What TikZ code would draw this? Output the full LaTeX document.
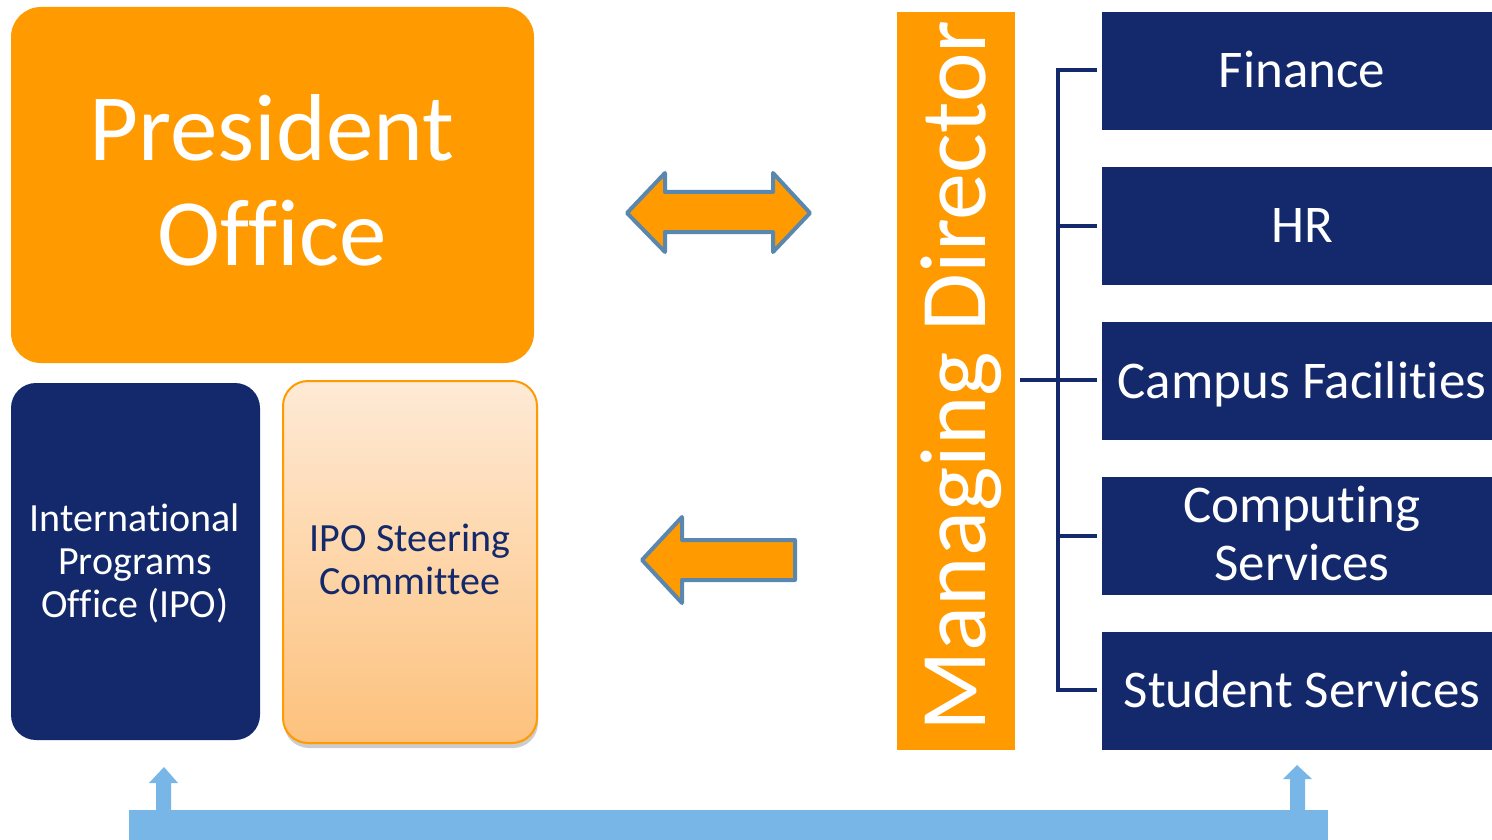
\documentclass[tikz,border=0pt]{standalone}
\usepackage{fontspec}
\setmainfont{Carlito}[Ligatures={NoCommon,NoRare,NoContextual}]
\usetikzlibrary{shadows}
\definecolor{orng}{HTML}{FF9A00}
\definecolor{navy}{HTML}{13296B}
\definecolor{lblue}{HTML}{77B6E6}
\definecolor{aedge}{HTML}{5A87AD}
\definecolor{stop}{HTML}{FEEAD6}
\definecolor{sbot}{HTML}{FDC17C}
\begin{document}
\begin{tikzpicture}[x=1pt,y=-1pt,
  boxo/.style={fill=orng, draw=none, inner sep=0pt, outer sep=0pt},
  boxn/.style={fill=navy, draw=none, inner sep=0pt, outer sep=0pt},
  wtext/.style={text=white, inner sep=0pt, align=center, anchor=base},
  bigtext/.style={wtext, font=\fontsize{95}{105}\selectfont},
  midtext/.style={wtext, font=\fontsize{53}{58}\selectfont},
  smalltext/.style={wtext, font=\fontsize{40}{43}\selectfont},
  bigarrow/.style={fill=orng, draw=aedge, line width=4pt, line join=round},
  bracketline/.style={draw=navy, line width=4pt},
  basebar/.style={fill=lblue, draw=none}]
\useasboundingbox (0,0) rectangle (1492,840);

% President Office
\node[boxo, rounded corners=30pt, minimum width=523pt, minimum height=356pt] (pres) at (272.5,185) {};
\node[bigtext] (prestext) at (272,265) {President\\Office};

% IPO
\node[boxn, rounded corners=25pt, minimum width=249pt, minimum height=357pt] (ipo) at (135.5,561.5) {};
\node[smalltext] (ipotext) at (135,617) {International\\Programs\\Office (IPO)};

% Steering committee
\node[rounded corners=25pt, minimum width=254pt, minimum height=362pt, inner sep=0pt, outer sep=0pt,
      draw=orng, line width=2pt, top color=stop, bottom color=sbot,
      drop shadow={shadow xshift=1pt, shadow yshift=-5pt, opacity=0.2, fill=black}] (steer) at (410,562) {};
\node[smalltext, text=navy] (steertext) at (410,594) {IPO Steering\\Committee};

% Managing Director
\node[boxo, minimum width=118pt, minimum height=738pt] (md) at (956,381) {};
\node[wtext, font=\fontsize{94}{105}\selectfont, rotate=90] (mdtext) at (985,376) {Managing Director};

% Right boxes
\node[boxn, minimum width=390pt, minimum height=118pt] (fin) at (1297,71) {};
\node[boxn, minimum width=390pt, minimum height=118pt] (hr) at (1297,226) {};
\node[boxn, minimum width=390pt, minimum height=118pt] (camp) at (1297,381) {};
\node[boxn, minimum width=390pt, minimum height=118pt] (comp) at (1297,536) {};
\node[boxn, minimum width=390pt, minimum height=118pt] (stud) at (1297,691) {};
\node[midtext] (fintext) at (1302,88) {Finance};
\node[midtext] (hrtext) at (1302,242) {HR};
\node[midtext] (camptext) at (1302,398) {Campus Facilities};
\node[midtext] (comptext) at (1302,580) {Computing\\Services};
\node[midtext] (studtext) at (1302,707) {Student Services};

% Bracket
\coordinate (bustop) at (1058,70);
\coordinate (busbot) at (1058,690);
\coordinate (busmid) at (1058,380);
\draw[bracketline] ([xshift=-5pt]fin.west |- bustop) -- (bustop) -- (busbot) -- ([xshift=-5pt]stud.west |- busbot);
\draw[bracketline] (busmid |- hr.west) -- ([xshift=-5pt]hr.west);
\draw[bracketline] ([xshift=5pt]md.east |- busmid) -- ([xshift=-5pt]camp.west |- busmid);
\draw[bracketline] (busmid |- comp.west) -- ([xshift=-5pt]comp.west);

% Arrows
\draw[bigarrow] (627,213) -- (665,173) -- (665,192) -- (773,192) -- (773,173) -- (810,213)
  -- (773,252) -- (773,232) -- (665,232) -- (665,252) -- cycle;
\draw[bigarrow] (642,560) -- (682,517) -- (682,540) -- (795,540) -- (795,580) -- (682,580) -- (682,603) -- cycle;

% Bottom bar
\fill[basebar] (129,810) rectangle (1328,840);
\fill[basebar] (156,810) -- (156,783) -- (149,783) -- (164,767) -- (178,783) -- (171,783) -- (171,810) -- cycle;
\fill[basebar] (1290,810) -- (1290,779) -- (1283,779) -- (1297,765) -- (1312,779) -- (1305,779) -- (1305,810) -- cycle;
\end{tikzpicture}
\end{document}
